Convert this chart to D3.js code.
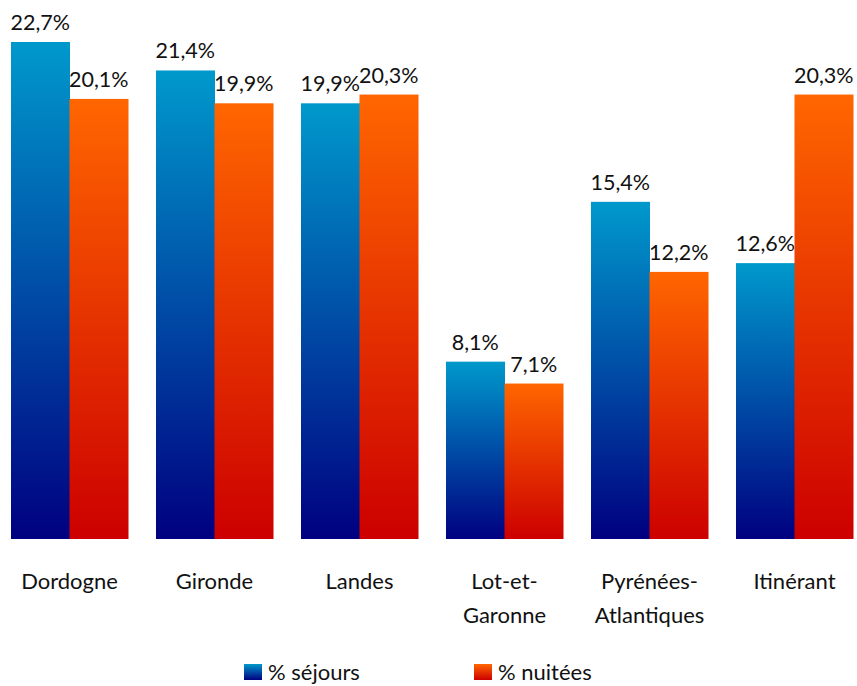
<!DOCTYPE html>
<html><head><meta charset="utf-8">
<script src="https://cdn.jsdelivr.net/npm/d3@7"></script>
<style>body{margin:0;background:#fff}svg{display:block}</style>
</head><body>
<svg id="c" width="857" height="686"></svg>
<script>
const categories = [["Dordogne"],["Gironde"],["Landes"],["Lot-et-","Garonne"],["Pyrénées-","Atlantiques"],["Itinérant"]];
const sejours = [22.7, 21.4, 19.9, 8.1, 15.4, 12.6];
const nuitees = [20.1, 19.9, 20.3, 7.1, 12.2, 20.3];
const seriesNames = ["% séjours", "% nuitées"];
const seriesValues = [sejours, nuitees];

const svg = d3.select("#c");
const font = "Lato, 'Open Sans', sans-serif";
const defs = svg.append("defs");
const grads = [["#0099CC","#000080"],["#FF6600","#CC0000"]];
grads.forEach((g,i)=>{
  const lg = defs.append("linearGradient").attr("id","g"+i).attr("x1",0).attr("y1",0).attr("x2",0).attr("y2",1);
  lg.append("stop").attr("offset","0%").attr("stop-color",g[0]);
  lg.append("stop").attr("offset","100%").attr("stop-color",g[1]);
});

const x = d3.scaleBand().domain(d3.range(categories.length)).range([-3, 867]).paddingInner(0.193).paddingOuter(0.0965);
const xs = d3.scaleBand().domain([0,1]).range([0, x.bandwidth()]);
const y = d3.scaleLinear().domain([0, 22.7]).range([539, 42]);
const fmt = v => d3.format(".1f")(v).replace(".", ",") + "%";

seriesValues.forEach((vals, s) => {
  const g = svg.append("g");
  g.selectAll("rect").data(vals).join("rect")
    .attr("x", (d,i)=>x(i)+xs(s))
    .attr("width", xs.bandwidth()+0.5)
    .attr("y", d=>y(d))
    .attr("height", d=>y(0)-y(d))
    .attr("fill", `url(#g${s})`);
  g.selectAll("text").data(vals).join("text")
    .attr("x", (d,i)=>x(i)+xs(s)+xs.bandwidth()/2)
    .attr("y", d=>y(d)-12)
    .attr("text-anchor","middle")
    .attr("font-family", font).attr("font-size", 21.5).attr("fill","#111")
    .text(fmt);
});

const cat = svg.append("g");
categories.forEach((lines,i)=>{
  const t = cat.append("text")
    .attr("x", x(i)+x.bandwidth()/2)
    .attr("y", 589)
    .attr("text-anchor","middle")
    .attr("font-family", font).attr("font-size", 22).attr("fill","#111");
  lines.forEach((l,j)=>{
    t.append("tspan").attr("x", x(i)+x.bandwidth()/2).attr("dy", j===0?0:34).text(l);
  });
});

const legX = [244, 474];
seriesNames.forEach((n,s)=>{
  svg.append("rect").attr("x", legX[s]).attr("y", 664).attr("width", 18).attr("height", 16).attr("fill", `url(#g${s})`);
  svg.append("text").attr("x", legX[s]+24).attr("y", 680)
    .attr("font-family", font).attr("font-size", 22).attr("fill","#111").text(n);
});
</script>
</body></html>
